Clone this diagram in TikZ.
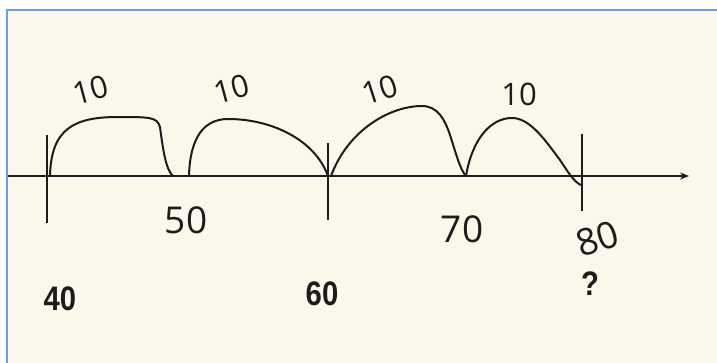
\documentclass[tikz,border=0pt]{standalone}
\usepackage{fontspec}
\setmainfont{Liberation Sans}
\newfontfamily\handfont{Open Sans}
\usepackage{xcolor}
\usetikzlibrary{arrows.meta}
\definecolor{frameblue}{HTML}{6C9FDA}
\definecolor{cream}{HTML}{FBF7EA}
\definecolor{ink}{HTML}{1C1C1C}

\begin{document}
\begin{tikzpicture}[
    x=1pt, y=-1pt,
    hop/.style={draw=ink, line width=2pt, line cap=round, line join=round},
    tickline/.style={draw=ink, line width=1.7pt},
    hand/.style={font=\handfont\fontsize{31}{31}\selectfont, text=ink, inner sep=0pt,
                 text height=0.72em, text depth=0pt},
    bighand/.style={hand, font=\handfont\fontsize{37}{37}\selectfont},
    typed/.style={font=\fontsize{34}{34}\selectfont\bfseries, text=ink, inner sep=0pt,
                  xscale=0.86, text height=0.72em, text depth=0pt},
    arr/.style={-{Stealth[length=9pt,width=7pt]}, draw=ink, line width=1.5pt}
]
\useasboundingbox (0,0) rectangle (717,362);
\fill[white] (0,0) rectangle (717,362);
\draw[line width=2.2pt, draw=frameblue, fill=cream] (7,10) rectangle (740,380);

% number line
\coordinate (start) at (8,176);
\coordinate (end) at (689,176);
\draw[arr] (start) -- (end);

\foreach \n/\x/\a/\b in {40/47/135/223, 60/328/143/220, 80/582/134/211} {
  \coordinate (t\n a) at (\x,\a);
  \coordinate (t\n b) at (\x,\b);
  \draw[tickline] (t\n a) -- (t\n b);
}

\coordinate (p40) at (50,176);
\coordinate (p50a) at (173,176);
\coordinate (p50b) at (189,176);
\coordinate (p60) at (328,176);
\coordinate (p60b) at (331,176);
\coordinate (p70) at (466,176);
\coordinate (p80) at (581,185);

% hops of ten
\draw[hop] (p40) .. controls (51,128) and (75,117) .. (118,117)
  .. controls (150,117) and (157,117) .. (160,127)
  .. controls (163,150) and (166,170) .. (p50a);
\draw[hop] (p50b) .. controls (190,136) and (205,119) .. (228,119)
  .. controls (272,119) and (315,140) .. (p60);
\draw[hop] (p60b) .. controls (348,130) and (390,106) .. (422,106)
  .. controls (438,106) and (445,120) .. (450,135)
  .. controls (455,150) and (460,170) .. (p70);
\draw[hop] (p70) .. controls (472,140) and (490,118) .. (512,118)
  .. controls (530,118) and (545,140) .. (560,160)
  .. controls (568,172) and (574,182) .. (p80);

% handwritten labels
\node[hand, rotate=15] (h1) at (93,97) {10};
\node[hand, rotate=15] (h2) at (234,96) {10};
\node[hand, rotate=18] (h3) at (382,97) {10};
\node[hand] (h4) at (519,102) {10};
\node[bighand] (n50) at (186,230) {50};
\node[bighand] (n70) at (462,239) {70};
\node[bighand, rotate=18] (n80) at (600,248) {80};

% printed labels
\node[typed] (l40) at (60,307) {40};
\node[typed] (l60) at (322,302) {60};
\node[typed] (lq) at (590,292) {?};
\end{tikzpicture}
\end{document}
